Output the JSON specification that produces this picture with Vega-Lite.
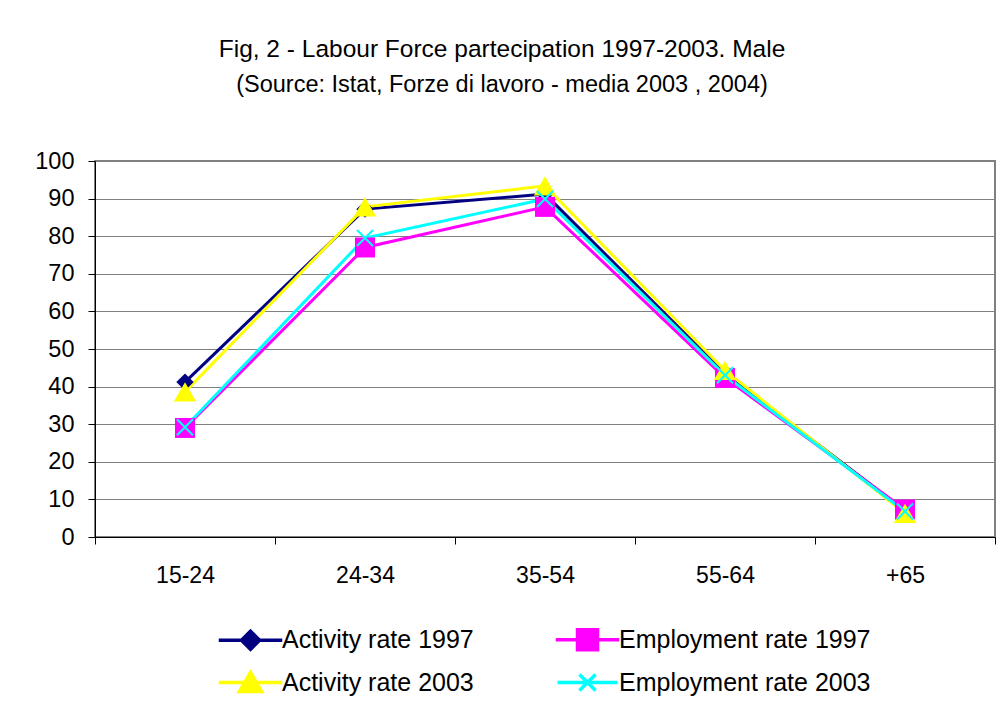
{
  "$schema": "https://vega.github.io/schema/vega-lite/v6.json",
  "autosize": {"type": "none"},
  "width": 900,
  "height": 376,
  "padding": {"left": 95, "top": 161, "right": 5, "bottom": 168},
  "background": "white",
  "config": {
    "font": "Liberation Sans",
    "view": {"stroke": "#808080", "strokeWidth": 2}
  },
  "title": {
    "text": "Fig, 2 - Labour Force partecipation 1997-2003. Male",
    "subtitle": "(Source: Istat, Forze di lavoro - media 2003 , 2004)",
    "font": "Liberation Sans",
    "fontSize": 24.5,
    "fontWeight": "normal",
    "color": "black",
    "subtitleFont": "Liberation Sans",
    "subtitleFontSize": 23.5,
    "subtitleColor": "black",
    "subtitlePadding": 10,
    "anchor": "middle",
    "frame": "group",
    "dx": -43,
    "offset": 52
  },
  "data": {
    "values": [
      {"age": "15-24", "series": "Activity rate 1997", "value": 41.2},
      {"age": "24-34", "series": "Activity rate 1997", "value": 87.2},
      {"age": "35-54", "series": "Activity rate 1997", "value": 91.2},
      {"age": "55-64", "series": "Activity rate 1997", "value": 43.5},
      {"age": "+65", "series": "Activity rate 1997", "value": 7.0},
      {"age": "15-24", "series": "Employment rate 1997", "value": 29.0},
      {"age": "24-34", "series": "Employment rate 1997", "value": 77.0},
      {"age": "35-54", "series": "Employment rate 1997", "value": 87.8},
      {"age": "55-64", "series": "Employment rate 1997", "value": 42.3},
      {"age": "+65", "series": "Employment rate 1997", "value": 7.3},
      {"age": "15-24", "series": "Activity rate 2003", "value": 38.6},
      {"age": "24-34", "series": "Activity rate 2003", "value": 87.8},
      {"age": "35-54", "series": "Activity rate 2003", "value": 93.4},
      {"age": "55-64", "series": "Activity rate 2003", "value": 44.3},
      {"age": "+65", "series": "Activity rate 2003", "value": 6.3},
      {"age": "15-24", "series": "Employment rate 2003", "value": 29.2},
      {"age": "24-34", "series": "Employment rate 2003", "value": 79.5},
      {"age": "35-54", "series": "Employment rate 2003", "value": 89.9},
      {"age": "55-64", "series": "Employment rate 2003", "value": 43.0},
      {"age": "+65", "series": "Employment rate 2003", "value": 6.8}
    ]
  },
  "encoding": {
    "x": {
      "field": "age",
      "type": "nominal",
      "sort": ["15-24", "24-34", "35-54", "55-64", "+65"],
      "scale": {"type": "band", "paddingInner": 0, "paddingOuter": 0},
      "axis": {
        "title": null,
        "labelAngle": 0,
        "tickBand": "extent",
        "grid": false,
        "domainColor": "black",
        "domainWidth": 1,
        "tickColor": "black",
        "tickSize": 7,
        "labelFont": "Liberation Sans",
        "labelFontSize": 23,
        "labelColor": "black",
        "labelPadding": 20
      }
    },
    "y": {
      "field": "value",
      "type": "quantitative",
      "scale": {"domain": [0, 100], "nice": false},
      "axis": {
        "title": null,
        "values": [0, 10, 20, 30, 40, 50, 60, 70, 80, 90, 100],
        "grid": true,
        "gridColor": "#808080",
        "gridWidth": 1,
        "domainColor": "black",
        "domainWidth": 1,
        "tickColor": "black",
        "tickSize": 7,
        "labelFont": "Liberation Sans",
        "labelFontSize": 23.5,
        "labelColor": "black",
        "labelPadding": 14
      }
    }
  },
  "layer": [
    {
      "mark": {"type": "line", "strokeWidth": 3},
      "encoding": {
        "color": {
          "field": "series",
          "type": "nominal",
          "scale": {
            "domain": ["Activity rate 1997", "Employment rate 1997", "Activity rate 2003", "Employment rate 2003"],
            "range": ["#000080", "#FF00FF", "#FFFF00", "#00FFFF"]
          },
          "legend": {
            "orient": "none",
            "legendX": 143,
            "legendY": 466,
            "direction": "horizontal",
            "columns": 2,
            "title": null,
            "padding": 0,
            "labelFont": "Liberation Sans",
            "labelFontSize": 25,
            "labelColor": "black",
            "labelLimit": 400,
            "symbolSize": 400,
            "labelOffset": 19,
            "columnPadding": 76,
            "rowPadding": 8,
            "encode": {
              "symbols": {
                "update": {
                  "shape": {"signal": "datum.value === 'Activity rate 1997' ? 'M-3,0L3,0L3,0.01L-3,0.01ZM0,-0.9L0.9,0L0,0.9L-0.9,0Z' : datum.value === 'Employment rate 1997' ? 'M-3,0L3,0L3,0.01L-3,0.01ZM-1,-1L1,-1L1,1L-1,1Z' : datum.value === 'Activity rate 2003' ? 'M-3,0L3,0L3,0.01L-3,0.01ZM0,-1L1.1,0.9L-1.1,0.9Z' : 'M-3,0L3,0M-0.8,-0.8L0.8,0.8M-0.8,0.8L0.8,-0.8'"},
                  "fill": {"signal": "scale('color', datum.value)"},
                  "stroke": {"signal": "scale('color', datum.value)"},
                  "strokeWidth": {"value": 3.5},
                  "opacity": {"value": 1}
                }
              }
            }
          }
        }
      }
    },
    {
      "transform": [{"filter": "datum.series === 'Activity rate 1997'"}],
      "mark": {"type": "point", "shape": "diamond", "size": 300, "filled": true, "opacity": 1, "color": "#000080"}
    },
    {
      "transform": [{"filter": "datum.series === 'Employment rate 1997'"}],
      "mark": {"type": "point", "shape": "square", "size": 400, "filled": true, "opacity": 1, "color": "#FF00FF"}
    },
    {
      "transform": [{"filter": "datum.series === 'Activity rate 2003'"}],
      "mark": {"type": "point", "shape": "triangle-up", "size": 500, "filled": true, "opacity": 1, "color": "#FFFF00"}
    },
    {
      "transform": [{"filter": "datum.series === 'Employment rate 2003'"}],
      "mark": {"type": "point", "shape": "M-1,-1L1,1M-1,1L1,-1", "size": 256, "filled": false, "opacity": 1, "color": "#00FFFF", "strokeWidth": 2}
    }
  ]
}
